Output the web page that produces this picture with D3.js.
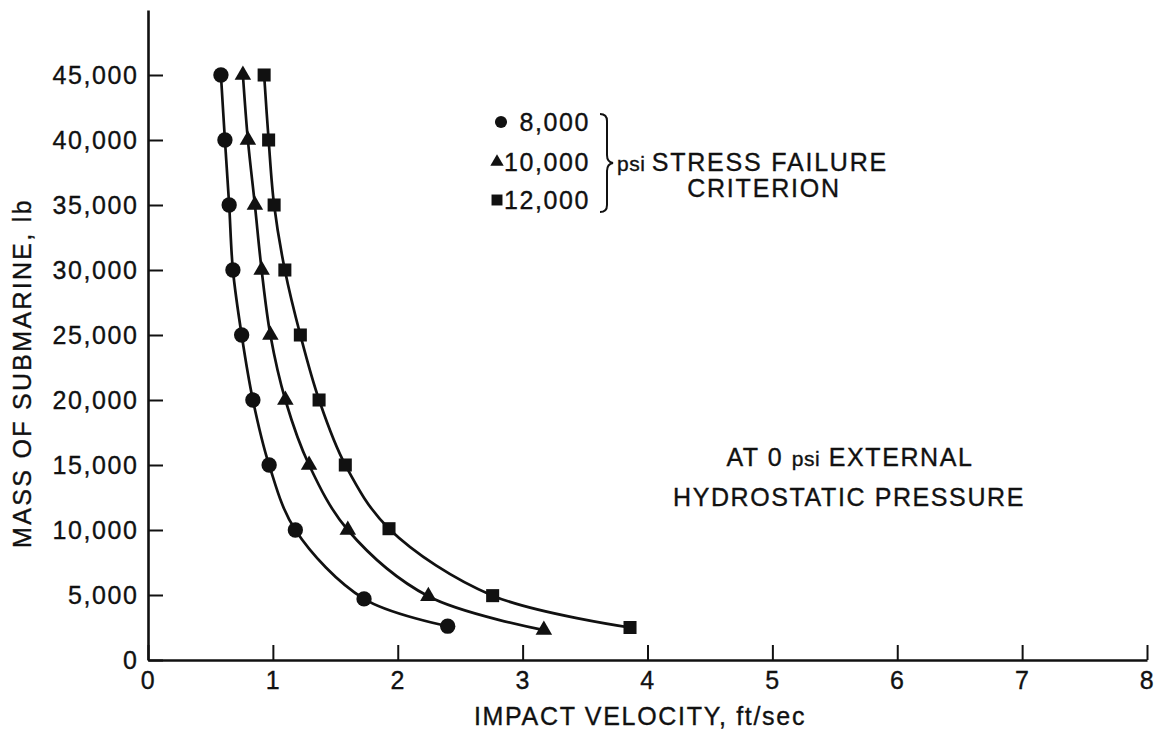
<!DOCTYPE html>
<html>
<head>
<meta charset="utf-8">
<script src="https://cdn.jsdelivr.net/npm/d3@7"></script>
<style>
  html, body { margin: 0; padding: 0; background: #fff; }
  svg { display: block; }
  text { font-family: "Liberation Sans", Arial, sans-serif; fill: #111; stroke: #111; stroke-width: 0.35px; }
</style>
</head>
<body>
<svg id="chart" width="1159" height="744"></svg>
<script>
// Impact velocity (ft/sec) vs. submarine mass (lb) for three stress-failure criteria
const velocity8000  = [0.584, 0.616, 0.65, 0.68, 0.75, 0.84, 0.97, 1.18, 1.73, 2.40];
const mass8000      = [45000, 40000, 35000, 30000, 25000, 20000, 15000, 10000, 4700, 2600];
const velocity10000 = [0.76, 0.80, 0.856, 0.91, 0.98, 1.10, 1.29, 1.60, 2.245, 3.17];
const mass10000     = [45000, 40000, 35000, 30000, 25000, 20000, 15000, 10000, 4900, 2300];
const velocity12000 = [0.93, 0.966, 1.01, 1.096, 1.22, 1.37, 1.58, 1.93, 2.76, 3.86];
const mass12000     = [45000, 40000, 35000, 30000, 25000, 20000, 15000, 10100, 4950, 2500];

const seriesNames  = ["8,000", "10,000", "12,000"];
const seriesShapes = ["circle", "triangle", "square"];

const xTicks = [0, 1, 2, 3, 4, 5, 6, 7, 8];
const yTicks = [0, 5000, 10000, 15000, 20000, 25000, 30000, 35000, 40000, 45000];

const series = [
  { name: seriesNames[0], shape: seriesShapes[0], pts: velocity8000.map((v, i) => [v, mass8000[i]]) },
  { name: seriesNames[1], shape: seriesShapes[1], pts: velocity10000.map((v, i) => [v, mass10000[i]]) },
  { name: seriesNames[2], shape: seriesShapes[2], pts: velocity12000.map((v, i) => [v, mass12000[i]]) }
];

const svg = d3.select("#chart");
const x = d3.scaleLinear().domain([0, 8]).range([148, 1147]);
const y = d3.scaleLinear().domain([0, 50000]).range([660, 10]);

const LS = "1.6px";
const symType = { circle: d3.symbolCircle, triangle: d3.symbolTriangle, square: d3.symbolSquare };
const plotSize = { circle: 185, triangle: 118, square: 170 };
const legendSize = { circle: 115, triangle: 78, square: 120 };

// Axes
const xAxis = svg.append("g")
  .attr("transform", `translate(0,${y(0)})`)
  .call(d3.axisBottom(x).tickValues(xTicks).tickFormat(d3.format("d"))
    .tickSizeInner(-15).tickSizeOuter(0).tickPadding(11));
const yAxis = svg.append("g")
  .attr("transform", `translate(${x(0)},0)`)
  .call(d3.axisLeft(y).tickValues(yTicks).tickFormat(d3.format(","))
    .tickSizeInner(-15).tickSizeOuter(0).tickPadding(11));

[xAxis, yAxis].forEach(g => {
  g.select(".domain").attr("stroke", "#111").attr("stroke-width", 2.6);
  g.selectAll(".tick line").attr("stroke", "#111").attr("stroke-width", 2);
  g.selectAll(".tick text")
    .attr("fill", "#111")
    .style("font-family", "'Liberation Sans', Arial, sans-serif")
    .style("font-size", "25px")
    .style("letter-spacing", LS);
});
yAxis.selectAll(".tick text").attr("dx", "1.6px");

// Axis titles
svg.append("text")
  .attr("x", 640).attr("y", 725)
  .attr("text-anchor", "middle")
  .style("font-size", "25px").style("letter-spacing", "1.7px")
  .text("IMPACT VELOCITY, ft/sec");

svg.append("text")
  .attr("transform", `translate(31,373) rotate(-90)`)
  .attr("text-anchor", "middle")
  .style("font-size", "25px").style("letter-spacing", "2.3px")
  .text("MASS OF SUBMARINE, lb");

// Curves
const line = d3.line()
  .x(d => x(d[0])).y(d => y(d[1]))
  .curve(d3.curveCatmullRom.alpha(0.5));

svg.append("g").selectAll("path.curve")
  .data(series).join("path")
  .attr("class", "curve")
  .attr("d", d => line(d.pts))
  .attr("fill", "none")
  .attr("stroke", "#111")
  .attr("stroke-width", 2.7);

// Markers
series.forEach(s => {
  svg.append("g").selectAll("path")
    .data(s.pts).join("path")
    .attr("transform", d => `translate(${x(d[0])},${y(d[1])})`)
    .attr("d", d3.symbol().type(symType[s.shape]).size(plotSize[s.shape]))
    .attr("fill", "#111");
});

// Legend
const legendY = [122, 162, 200];
const legend = svg.append("g");
series.forEach((s, i) => {
  legend.append("path")
    .attr("transform", `translate(${i === 0 ? 501 : 497},${legendY[i]})`)
    .attr("d", d3.symbol().type(symType[s.shape]).size(legendSize[s.shape]))
    .attr("fill", "#111");
  legend.append("text")
    .attr("x", 590).attr("y", legendY[i]).attr("dy", "0.36em")
    .attr("text-anchor", "end")
    .style("font-size", "25px").style("letter-spacing", LS)
    .text(s.name);
});

// Brace grouping the legend entries
legend.append("path")
  .attr("d", "M600,114 Q607,114 607,121 L607,155 Q607,162 613,163 Q607,164 607,171 L607,205 Q607,212 600,212")
  .attr("fill", "none").attr("stroke", "#111").attr("stroke-width", 2);

const crit = legend.append("text")
  .attr("x", 617).attr("y", 162).attr("dy", "0.36em")
  .style("font-size", "25px").style("letter-spacing", "1.8px");
crit.append("tspan").style("font-size", "21px").style("letter-spacing", "0.5px").text("psi ");
crit.append("tspan").text("STRESS FAILURE");

legend.append("text")
  .attr("x", 764).attr("y", 188).attr("dy", "0.36em")
  .attr("text-anchor", "middle")
  .style("font-size", "25px").style("letter-spacing", "1.8px")
  .text("CRITERION");

// Test condition note
const note = svg.append("text")
  .attr("x", 850).attr("y", 466)
  .attr("text-anchor", "middle")
  .style("font-size", "25px").style("letter-spacing", "1.6px");
note.append("tspan").text("AT 0 ");
note.append("tspan").style("font-size", "21px").style("letter-spacing", "0.5px").text("psi");
note.append("tspan").text(" EXTERNAL");

svg.append("text")
  .attr("x", 849).attr("y", 506)
  .attr("text-anchor", "middle")
  .style("font-size", "25px").style("letter-spacing", "1.6px")
  .text("HYDROSTATIC PRESSURE");
</script>
</body>
</html>
